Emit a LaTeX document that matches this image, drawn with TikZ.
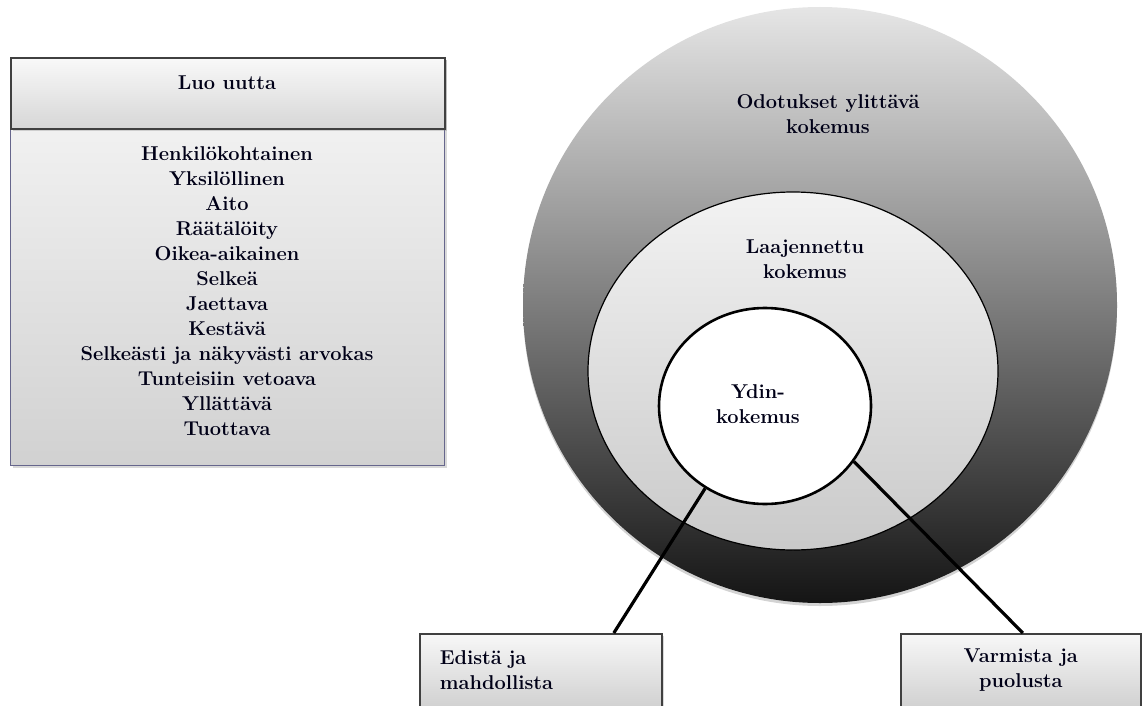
\documentclass[tikz,border=0pt]{standalone}
\usetikzlibrary{shapes.geometric,shadows}

\begin{document}
\begin{tikzpicture}[x=1pt, y=-1pt,
    teksti/.style={font=\fontsize{20}{25}\selectfont\bfseries, text=black!85!blue!60!black, inner sep=0pt},
    laatikko/.style={rectangle, draw=black!75, line width=1.6pt, top color=gray!6, bottom color=gray!36, inner sep=0pt,
        drop shadow={opacity=0.3, shadow xshift=2pt, shadow yshift=-2pt}},
    kehä/.style={ellipse, inner sep=0pt},
    yhdysviiva/.style={line width=3.2pt, black}]
    \useasboundingbox (0,0) rectangle (1142,706);
    \node[laatikko, anchor=north west, minimum width=434pt, minimum height=408pt, draw=blue!25!black!60, line width=1.3pt] (lista) at (10,57) {};
    \node[laatikko, anchor=north west, minimum width=434pt, minimum height=71pt, line width=1.9pt, top color=gray!5, bottom color=gray!32] (otsikko) at (10,57) {};
    \node[teksti, anchor=base] (luo) at (227,90) {Luo uutta};
    \foreach \sana [count=\i from 0] in {Henkilökohtainen, Yksilöllinen, Aito, Räätälöity, Oikea-aikainen, Selkeä, Jaettava, Kestävä, Selkeästi ja näkyvästi arvokas, Tunteisiin vetoava, Yllättävä, Tuottava}
        \node[teksti, anchor=base] (rivi\i) at (227,160+25*\i) {\sana};
    \node[kehä, minimum width=594pt, minimum height=596pt, top color=gray!20, bottom color=black!92,
        drop shadow={opacity=0.35, shadow xshift=0pt, shadow yshift=-3pt}] (odotus) at (820,305) {};
    \node[kehä, draw, line width=1.2pt, minimum width=410pt, minimum height=358pt, top color=gray!10, bottom color=gray!42] (laaj) at (793,371) {};
    \node[kehä, draw, line width=2.6pt, fill=white, minimum width=212pt, minimum height=196pt] (ydin) at (765,406) {};
    \node[teksti, align=center] (odotusteksti) at (828,114) {Odotukset ylittävä\\kokemus};
    \node[teksti, align=center] (laajteksti) at (805,259) {Laajennettu\\kokemus};
    \node[teksti, align=center] (ydinteksti) at (758,404) {Ydin-\\kokemus};
    \node[laatikko, anchor=north west, minimum width=242pt, minimum height=73pt] (edista) at (419,633) {};
    \node[laatikko, anchor=north west, minimum width=240pt, minimum height=73pt] (varmista) at (900,633) {};
    \node[teksti, align=left, text width=202pt] (edistateksti) at (edista.center) {Edistä ja\\mahdollista};
    \node[teksti, align=center] (varmistateksti) at (varmista.center) {Varmista ja\\puolusta};
    \draw[yhdysviiva] (ydin.234) -- ([xshift=73pt]edista.north);
    \draw[yhdysviiva] (ydin.328) -- ([xshift=2pt]varmista.north);
\end{tikzpicture}
\end{document}
